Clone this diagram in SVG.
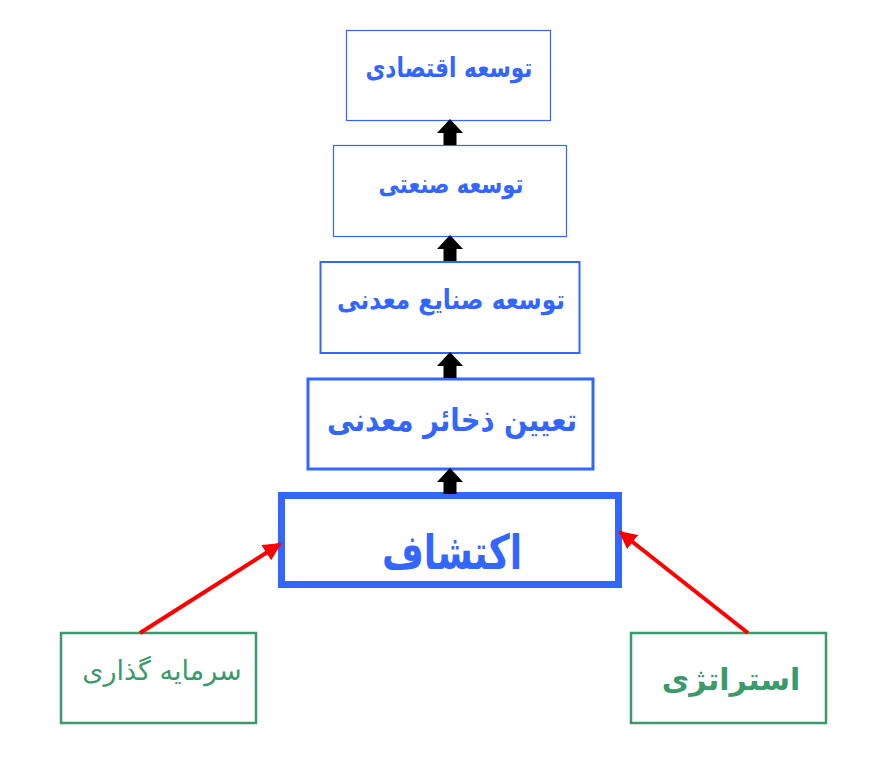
<svg xmlns="http://www.w3.org/2000/svg" width="888" height="757" viewBox="0 0 888 757">
<style>
.b{fill:#fff;stroke:#3366ff}
.g{fill:#fff;stroke:#3a9a6a;stroke-width:2.5}
.t{font-family:"DejaVu Sans",sans-serif;font-weight:bold;fill:#3366ff;text-anchor:middle;direction:rtl}
.tg{font-family:"DejaVu Sans",sans-serif;fill:#3a9a6a;text-anchor:middle;direction:rtl}
.up{fill:#000}
.red{stroke:#ff0000;stroke-width:4;fill:none}
</style>
<defs>
<marker id="ah" viewBox="0 0 10 10" refX="9" refY="5" markerWidth="4.5" markerHeight="4.5" orient="auto" markerUnits="strokeWidth">
<path d="M0,0 L10,5 L0,10 Z" fill="#ff0000"/>
</marker>
<path id="ua" d="M-6.5,0 V-12 H-13 L0,-26 L13,-12 H6.5 V0 Z"/>
</defs>
<rect width="888" height="757" fill="#fff"/>
<g id="n1"><rect class="b" x="346.5" y="30.5" width="204" height="90" stroke-width="1.2"/><text class="t" x="449" y="77" font-size="27" textLength="167" lengthAdjust="spacingAndGlyphs">توسعه اقتصادی</text></g>
<g id="n2"><rect class="b" x="333.5" y="145.5" width="233" height="91" stroke-width="1.2"/><text class="t" x="451" y="193" font-size="26" textLength="145" lengthAdjust="spacingAndGlyphs">توسعه صنعتی</text></g>
<g id="n3"><rect class="b" x="320.5" y="262" width="259" height="91" stroke-width="2"/><text class="t" x="451" y="309" font-size="27" textLength="228" lengthAdjust="spacingAndGlyphs">توسعه صنایع معدنی</text></g>
<g id="n4"><rect class="b" x="308" y="379" width="285" height="90" stroke-width="3"/><text class="t" x="452" y="431" font-size="32" textLength="250" lengthAdjust="spacingAndGlyphs">تعیین ذخائر معدنی</text></g>
<g id="n5"><rect class="b" x="281.5" y="495.5" width="337" height="89" stroke-width="7"/><text class="t" x="452" y="569" font-size="48" textLength="140" lengthAdjust="spacingAndGlyphs">اکتشاف</text></g>
<g id="n6"><rect class="g" x="61" y="633" width="195" height="90"/><text class="tg" x="162" y="680" font-size="27">سرمایه گذاری</text></g>
<g id="n7"><rect class="g" x="631" y="633" width="195" height="90"/><text class="tg" x="731" y="690" font-size="30" font-weight="bold">استراتژی</text></g>
<g id="connectors">
<use href="#ua" class="up" x="450" y="145"/>
<use href="#ua" class="up" x="450" y="261"/>
<use href="#ua" class="up" x="450" y="378"/>
<use href="#ua" class="up" x="450" y="494"/>
<line class="red" x1="140" y1="633" x2="280" y2="544" marker-end="url(#ah)"/>
<line class="red" x1="748" y1="633" x2="620" y2="532" marker-end="url(#ah)"/>
</g>
</svg>
